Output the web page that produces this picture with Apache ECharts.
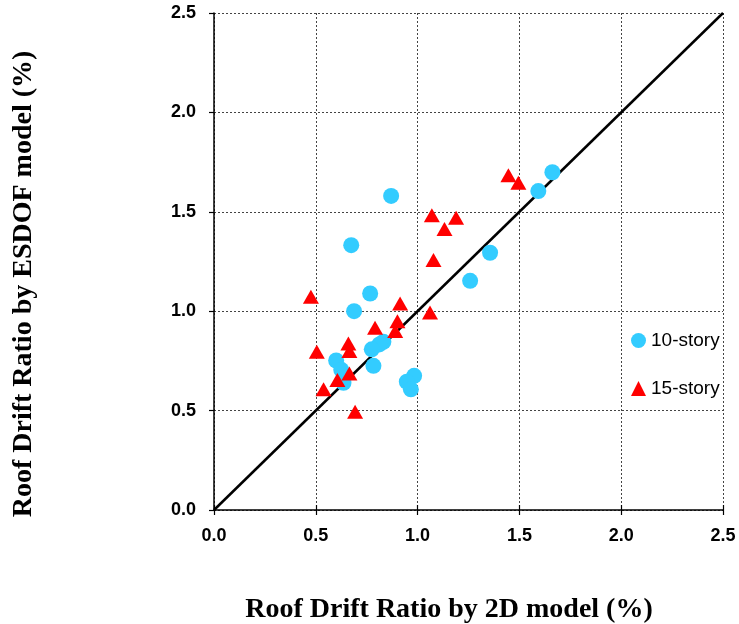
<!DOCTYPE html>
<html><head><meta charset="utf-8">
<script src="https://cdn.jsdelivr.net/npm/echarts@6/dist/echarts.min.js"></script>
<style>html,body{margin:0;padding:0;background:#fff}#c{width:739px;height:624px}</style>
</head><body><div id="c"></div>
<script>
const story10_x = [0.870,0.674,0.767,0.688,1.356,1.258,1.593,1.662,0.832,0.812,0.775,0.600,0.625,0.636,0.783,0.983,0.947,0.967];
const story10_y = [1.580,1.332,1.089,1.000,1.294,1.153,1.604,1.699,0.846,0.833,0.808,0.752,0.705,0.640,0.725,0.675,0.645,0.607];
const story15_x = [1.446,1.495,1.070,1.189,1.132,1.078,0.476,0.914,1.061,0.901,0.890,0.791,0.660,0.665,0.505,0.665,0.606,0.538,0.693];
const story15_y = [1.684,1.646,1.483,1.470,1.413,1.257,1.073,1.039,0.994,0.950,0.900,0.917,0.838,0.800,0.796,0.687,0.654,0.608,0.494];
const refLine = [[0,0],[2.5,2.5]];
const legendNames = ['10-story','15-story'];
const xTitle = 'Roof Drift Ratio by 2D model (%)';
const yTitle = 'Roof Drift Ratio by ESDOF model (%)';

const zip = (a,b)=>a.map((v,i)=>[v,b[i]]);
const chart = echarts.init(document.getElementById('c'));
const labelStyle = {color:'#000',fontFamily:'Liberation Sans, Arial',fontWeight:'bold',fontSize:18,
    formatter:v=>v.toFixed(1)};
const axisCommon = {
  type:'value', min:0, max:2.5, interval:0.5,
  axisLine:{show:true,lineStyle:{color:'#000',width:1.5}},
  axisTick:{show:true,length:5,lineStyle:{color:'#000',width:1.2}},
  splitLine:{show:true,lineStyle:{color:'#444',type:[2,2],width:1}}
};
const titleFont = {fontFamily:'Liberation Serif, Times New Roman',fontWeight:'bold',fontSize:28,fill:'#000'};
chart.setOption({
  animation:false,
  grid:{left:214,right:16,top:13,bottom:114,containLabel:false,outerBoundsMode:'none'},
  xAxis:[
    Object.assign({},axisCommon,{axisLabel:Object.assign({},labelStyle,{margin:17})}),
    Object.assign({},axisCommon,{position:'bottom',axisLine:{show:false},splitLine:{show:false},
      axisLabel:{show:false},axisTick:{show:true,inside:true,length:5,lineStyle:{color:'#000',width:1.2}}})
  ],
  yAxis:Object.assign({},axisCommon,{axisLabel:Object.assign({},labelStyle,{margin:18})}),
  legend:{show:true,orient:'vertical',left:626,top:326,itemGap:29,itemWidth:15,itemHeight:15,
    data:legendNames,textStyle:{color:'#000',fontFamily:'Liberation Sans, Arial',fontSize:19},
    itemStyle:{borderWidth:0}},
  graphic:[
    {type:'text',x:449,y:610,style:Object.assign({text:xTitle,textAlign:'center',textVerticalAlign:'middle'},titleFont)},
    {type:'text',rotation:Math.PI/2,x:24,y:284,style:Object.assign({text:yTitle,textAlign:'center',textVerticalAlign:'middle'},titleFont)}
  ],
  series:[
    {type:'line',data:refLine,symbol:'none',lineStyle:{color:'#000',width:2.5},silent:true,z:3},
    {name:legendNames[0],type:'scatter',data:zip(story10_x,story10_y),symbol:'circle',symbolSize:16,
      itemStyle:{color:'#33CCFF',opacity:1},z:4},
    {name:legendNames[1],type:'scatter',data:zip(story15_x,story15_y),symbol:'triangle',symbolSize:[16,14],
      itemStyle:{color:'#FF0000',opacity:1},z:5}
  ]
});
</script></body></html>
